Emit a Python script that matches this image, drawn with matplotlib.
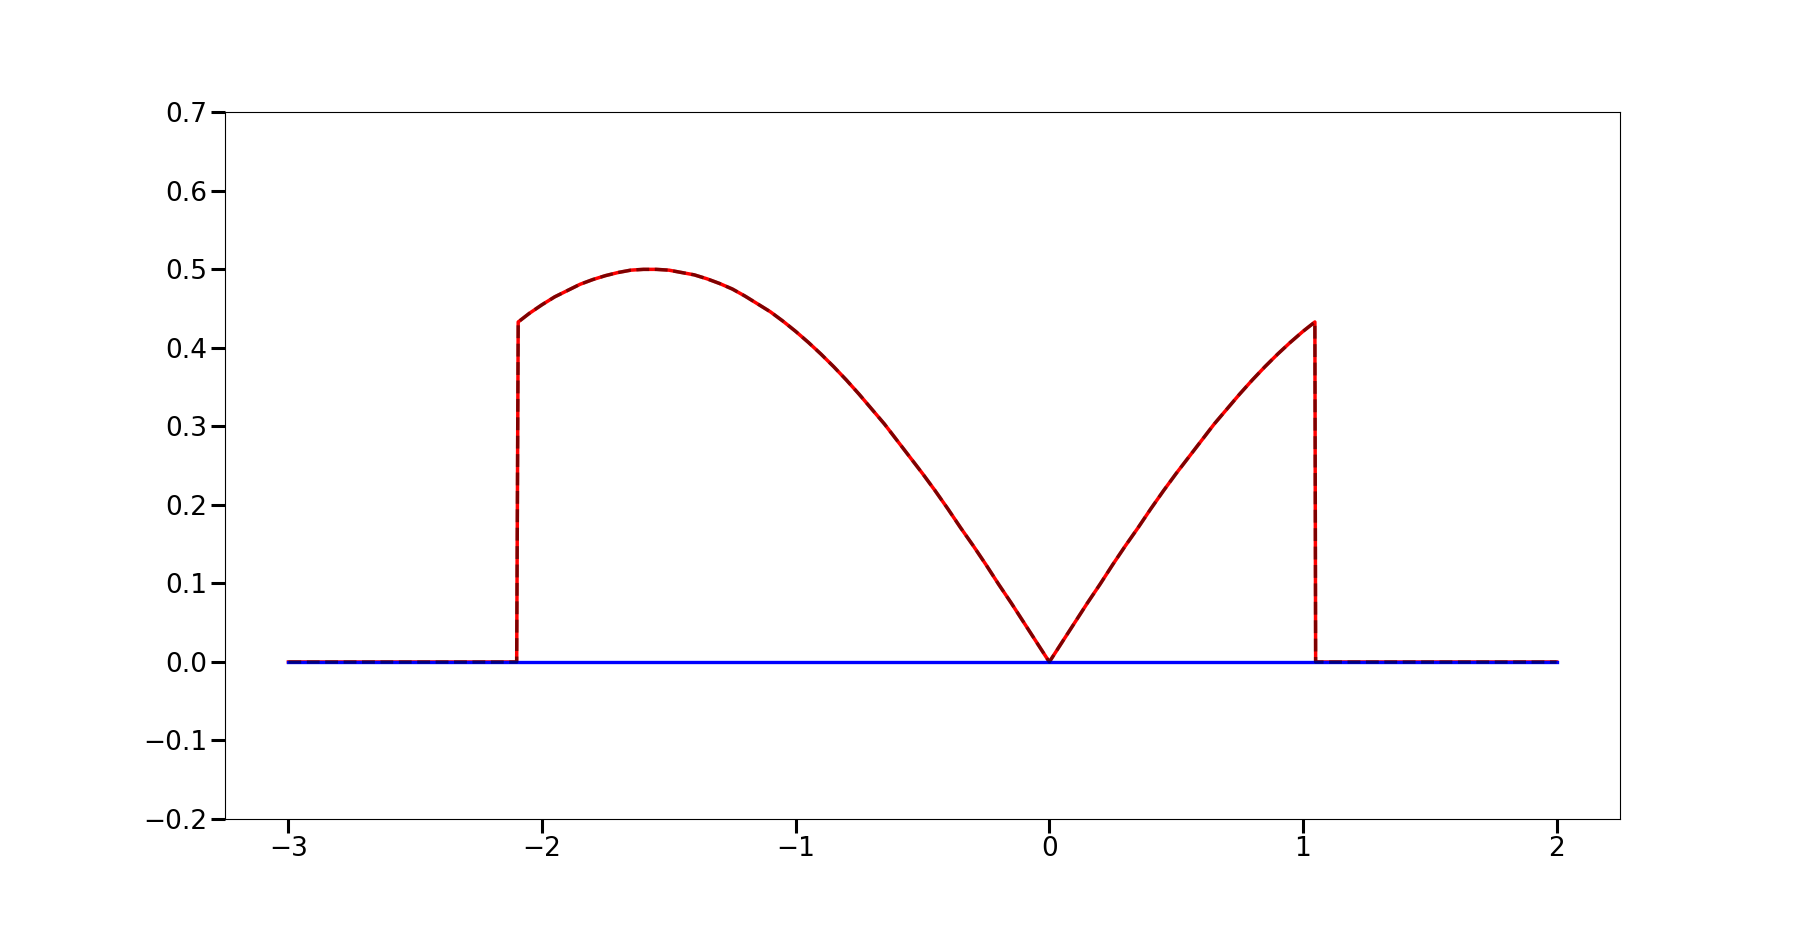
import matplotlib
matplotlib.use('Agg')
import matplotlib.pyplot as plt

# Curve samples (half-wave |sin| shape, zero outside the window)
x_vals = [-3.0, -2.1, -2.094, -2.05, -2.0, -1.95, -1.9, -1.85, -1.8, -1.75, -1.7,
          -1.65, -1.6, -1.57, -1.55, -1.5, -1.45, -1.4, -1.35, -1.3, -1.25, -1.2,
          -1.15, -1.1, -1.05, -1.0, -0.95, -0.9, -0.85, -0.8, -0.75, -0.7, -0.65,
          -0.6, -0.55, -0.5, -0.45, -0.4, -0.35, -0.3, -0.25, -0.2, -0.15, -0.1,
          -0.05, 0.0, 0.05, 0.1, 0.15, 0.2, 0.25, 0.3, 0.35, 0.4, 0.45, 0.5, 0.55,
          0.6, 0.65, 0.7, 0.75, 0.8, 0.85, 0.9, 0.95, 1.0, 1.047, 1.05, 2.0]
y_vals = [0.0, 0.0, 0.433, 0.444, 0.455, 0.465, 0.473, 0.481, 0.487, 0.492, 0.496,
          0.499, 0.500, 0.500, 0.500, 0.499, 0.496, 0.493, 0.488, 0.482, 0.475, 0.466,
          0.456, 0.446, 0.434, 0.421, 0.407, 0.392, 0.376, 0.359, 0.341, 0.322, 0.303,
          0.282, 0.261, 0.240, 0.218, 0.195, 0.171, 0.148, 0.124, 0.099, 0.075, 0.050,
          0.025, 0.0, 0.025, 0.050, 0.075, 0.099, 0.124, 0.148, 0.171, 0.195, 0.218, 0.240, 0.261,
          0.282, 0.303, 0.322, 0.341, 0.359, 0.376, 0.392, 0.407, 0.421, 0.433, 0.0, 0.0]

# Flat baseline
base_x = [-3.0, 2.0]
base_y = [0.0, 0.0]

y_ticks = [-0.2, -0.1, 0.0, 0.1, 0.2, 0.3, 0.4, 0.5, 0.6, 0.7]
x_ticks = [-3, -2, -1, 0, 1, 2]

fig, ax = plt.subplots(figsize=(18, 9.36), dpi=100)
fig.patch.set_facecolor('white')
fig.subplots_adjust(left=0.125, right=0.9, top=0.88, bottom=0.125)

ax.plot(x_vals, y_vals, color='red', lw=2.5)
ax.plot(base_x, base_y, color='blue', lw=2.4)
ax.plot(x_vals, y_vals, color='black', ls='--', lw=2.5, alpha=0.5)

ax.set_ylim(-0.2, 0.7)
ax.set_yticks(y_ticks)
ax.set_xticks(x_ticks)
ax.tick_params(axis='both', which='major', labelsize=19, length=10, width=2.2, pad=2.5)

plt.savefig('out.png', dpi=100, facecolor='white')
plt.close()
